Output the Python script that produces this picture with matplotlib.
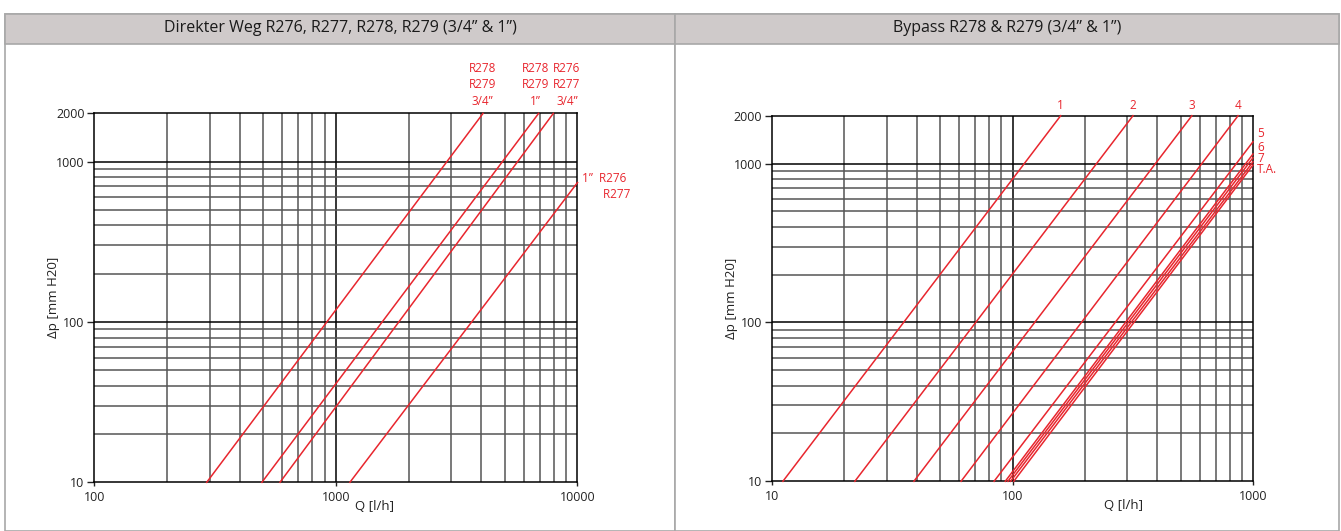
import matplotlib
matplotlib.use('Agg')
import matplotlib.pyplot as plt
from matplotlib.patches import Rectangle
from matplotlib.ticker import FixedLocator, NullFormatter, FixedFormatter
import numpy as np

plt.rcParams['font.family'] = ['Open Sans', 'DejaVu Sans']

# panel titles
titles = ['Direkter Weg R276, R277, R278, R279 (3/4” & 1”)',
          'Bypass R278 & R279 (3/4” & 1”)']

# left chart: line start (Q at dp=10) and end point
left_q0 = [292, 494, 587, 1143]
left_q1 = [4064, 6903, 7943, 10000]
left_dp1 = [2000, 2000, 2000, 741]
left_labels = ['R278\nR279\n3/4”', 'R278\nR279\n1”', 'R276\nR277\n3/4”', '1”  R276\n       R277']

# right chart
right_q0 = [11.1, 22.1, 38.9, 61.1, 83.8, 93.3, 95.7, 98.2, 101.2]
right_q1 = [158.6, 317, 557, 867, 1000, 1000, 1000, 1000, 1000]
right_dp1 = [2000, 2000, 2000, 2000, 1371, 1148, 1088, 1026, 979]
right_top_labels = ['1', '2', '3', '4']
right_side_labels = ['5', '6', '7', 'T.A.']
right_side_dp = [1556, 1270, 1080, 923]

RED = '#e8262e'
W, H = 1341, 531
fig = plt.figure(figsize=(W / 100, H / 100), dpi=100)


def px(x0, y0, x1, y1):
    # pixel box (top-left origin) -> figure fraction [l, b, w, h]
    return [x0 / W, 1 - y1 / H, (x1 - x0) / W, (y1 - y0) / H]


# panel frames and grey headers
for (x0, x1), title in zip([(5, 675), (675, 1339)], titles):
    l, b, w, h = px(x0, 14, x1, 531)
    fig.add_artist(Rectangle((l, b), w, h, transform=fig.transFigure, zorder=-2,
                             facecolor='white', edgecolor='#a8a8a8', lw=1.2))
    l, b, w, h = px(x0, 14, x1, 44)
    fig.add_artist(Rectangle((l, b), w, h, transform=fig.transFigure, zorder=-1,
                             facecolor='#cfcaca', edgecolor='#a8a8a8', lw=1.2))
    fig.text((x0 + x1) / 2 / W, 1 - 28 / H, title, ha='center', va='center',
             fontsize=11.5, color='#1a1a1a')


def setup(ax, xmin, xmax, xlab_x):
    ax.set_xscale('log')
    ax.set_yscale('log')
    ax.set_xlim(xmin, xmax)
    ax.set_ylim(10, 2000)
    ax.patch.set_alpha(0)
    # grid
    dec = xmin
    xs = []
    while dec < xmax:
        xs += [dec * k for k in range(1, 10)]
        dec *= 10
    xs = [v for v in xs if xmin < v < xmax]
    for v in xs:
        major = abs(np.log10(v) - round(np.log10(v))) < 1e-9
        ax.axvline(v, color='black' if major else '#555555', lw=1.1, zorder=1)
    ys = [k * 10 for k in range(2, 10)] + [k * 100 for k in range(1, 11)]
    for v in ys:
        major = v in (100, 1000)
        ax.axhline(v, color='black' if major else '#555555', lw=1.1, zorder=1)
    for s in ax.spines.values():
        s.set_color('black')
        s.set_linewidth(1.1)
    ax.yaxis.set_major_locator(FixedLocator([10, 100, 1000, 2000]))
    ax.yaxis.set_major_formatter(FixedFormatter(['10', '100', '1000', '2000']))
    ax.yaxis.set_minor_locator(FixedLocator([]))
    ax.xaxis.set_minor_locator(FixedLocator([]))
    ax.xaxis.set_minor_formatter(NullFormatter())
    ax.tick_params(axis='y', length=5, width=1, labelsize=9, pad=2, colors='#222222')
    ax.tick_params(axis='x', length=3, width=1, labelsize=9, pad=3, colors='#222222')
    ax.set_xlabel('Q [l/h]', fontsize=9.5, color='#222222')
    ax.set_ylabel('Δp [mm H20]', fontsize=9.5, color='#222222')
    ax.xaxis.set_label_coords(xlab_x, -0.048)
    ax.yaxis.set_label_coords(-0.07, 0.5)


# left chart
ax1 = fig.add_axes(px(94.3, 113.4, 577.5, 482.3))
setup(ax1, 100, 10000, 0.579)
ax1.xaxis.set_major_locator(FixedLocator([100, 1000, 10000]))
ax1.xaxis.set_major_formatter(FixedFormatter(['100', '1000', '10000']))
for q0, q1, d1 in zip(left_q0, left_q1, left_dp1):
    ax1.plot([q0, q1], [10, d1], color=RED, lw=1.1, zorder=3, clip_on=False)
# label anchors along the top edge
for qa, lab in zip([4052, 6714, 9049], left_labels[:3]):
    ax1.annotate(lab, (qa, 2000), xytext=(0, 4), textcoords='offset points',
                 ha='center', va='bottom', fontsize=8.5, color=RED, linespacing=1.35)
ax1.annotate(left_labels[3], (left_q1[3], left_dp1[3]), xytext=(3, -13.5),
             textcoords='offset points', ha='left', va='bottom', fontsize=8.5,
             color=RED, linespacing=1.35)

# right chart
ax2 = fig.add_axes(px(772, 115.7, 1253, 481.3))
setup(ax2, 10, 1000, 0.73)
ax2.xaxis.set_major_locator(FixedLocator([10, 100, 1000]))
ax2.xaxis.set_major_formatter(FixedFormatter(['10', '100', '1000']))
for q0, q1, d1 in zip(right_q0, right_q1, right_dp1):
    ax2.plot([q0, q1], [10, d1], color=RED, lw=1.1, zorder=3, clip_on=False)
for q1, lab in zip(right_q1[:4], right_top_labels):
    ax2.annotate(lab, (q1, 2000), xytext=(0, 3), textcoords='offset points',
                 ha='center', va='bottom', fontsize=8.5, color=RED)
for d, lab in zip(right_side_dp, right_side_labels):
    ax2.annotate(lab, (1000, d), xytext=(3, 0), textcoords='offset points',
                 ha='left', va='center', fontsize=8.5, color=RED)

fig.savefig('out.png', dpi=100)
